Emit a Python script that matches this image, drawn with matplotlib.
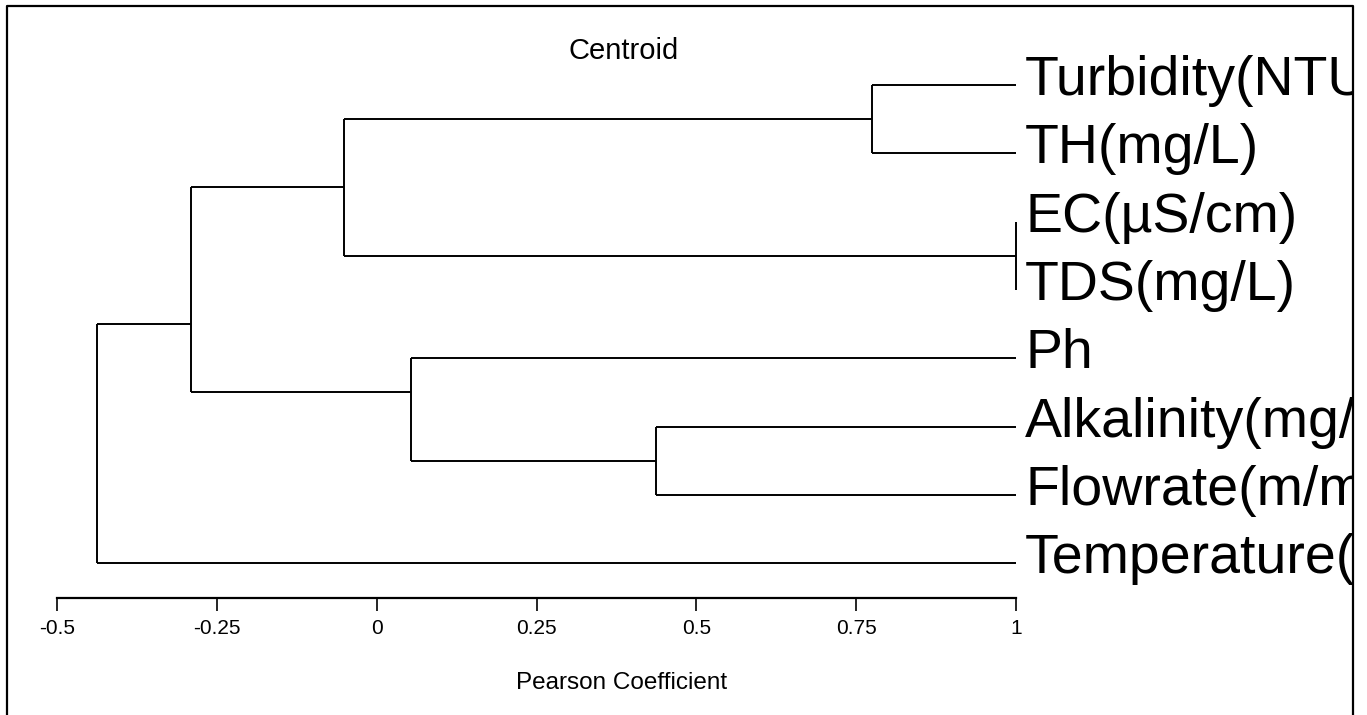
import matplotlib
matplotlib.use("Agg")
import matplotlib.pyplot as plt
from matplotlib.lines import Line2D
from matplotlib.transforms import Bbox, TransformedBbox, offset_copy

plt.rcParams['font.family'] = ['Liberation Sans', 'DejaVu Sans']

# leaves, top to bottom
leaves = ["Turbidity(NTU)", "TH(mg/L)", "EC(\u00b5S/cm)", "TDS(mg/L)", "Ph",
          "Alkalinity(mg/L)", "Flowrate(m/min)", "Temperature(\u00b0C)"]

# merges: cluster ids 0-7 are leaves, each merge makes the next id (8, 9, ...)
merge_a = [0, 2, 5, 4, 8, 12, 13]
merge_b = [1, 3, 6, 10, 9, 11, 7]
merge_coef = [0.775, 1.0, 0.437, 0.054, -0.051, -0.290, -0.437]

x_ticks = [-0.5, -0.25, 0, 0.25, 0.5, 0.75, 1]
x_ticklabels = ["-0.5", "-0.25", "0", "0.25", "0.5", "0.75", "1"]

W, H = 1367, 715
fig = plt.figure(figsize=(W / 100, H / 100), dpi=100)

# axes placed in pixels
left, right, top, bottom = 57, 1016, 6, 598
ax = fig.add_axes([left / W, 1 - bottom / H, (right - left) / W, (bottom - top) / H])

spacing = 68.3
ax.set_xlim(-0.5, 1.0)
ax.set_ylim((bottom - 85) / spacing, (top - 85) / spacing)

# build the tree
node_x = {i: 1.0 for i in range(len(leaves))}
node_y = {i: float(i) for i in range(len(leaves))}
node_lo = {i: i for i in range(len(leaves))}
node_hi = {i: i for i in range(len(leaves))}

lw = 1.4
nid = len(leaves)
for a, b, c in zip(merge_a, merge_b, merge_coef):
    for ch in (a, b):
        ax.plot([c, node_x[ch]], [node_y[ch], node_y[ch]], color='black', lw=lw,
                solid_capstyle='butt', clip_on=False)
    ax.plot([c, c], [node_y[a], node_y[b]], color='black', lw=lw,
            solid_capstyle='butt', clip_on=False)
    node_x[nid] = c
    node_lo[nid] = min(node_lo[a], node_lo[b])
    node_hi[nid] = max(node_hi[a], node_hi[b])
    node_y[nid] = (node_hi[a] + node_lo[b]) / 2
    nid += 1

# labels clipped by the right border
clip = TransformedBbox(Bbox([[0, 0], [1353 / W, 1]]), fig.transFigure)
trans = offset_copy(ax.transData, fig=fig, x=9, y=-10, units='dots')
for i, name in enumerate(leaves):
    t = ax.text(1.0, i, name, transform=trans, fontsize=40, ha='left', va='baseline')
    t.set_clip_on(True)
    t.set_clip_box(clip)

for s in ['top', 'right', 'left']:
    ax.spines[s].set_visible(False)
ax.spines['bottom'].set_linewidth(1.6)
ax.set_yticks([])
ax.set_xticks(x_ticks)
ax.set_xticklabels(x_ticklabels, fontsize=15)
ax.tick_params(axis='x', direction='out', length=9, width=1.2, pad=6)
ax.patch.set_visible(False)

ax.set_xlabel("Pearson Coefficient", fontsize=17.5)
ax.xaxis.set_label_coords((622 - left) / (right - left), -(683 - bottom) / (bottom - top))
ax.xaxis.label.set_va('center')

fig.text(624 / W, 1 - 51 / H, "Centroid", ha='center', va='center', fontsize=21)

# figure border (left, top, right)
bx0, by0, bx1 = 7 / W, 1 - 6 / H, 1353 / W
fig.add_artist(Line2D([bx0, bx0, bx1, bx1], [0, by0, by0, 0], transform=fig.transFigure,
                      color='black', lw=1.6))

fig.savefig("out.png", dpi=100)
